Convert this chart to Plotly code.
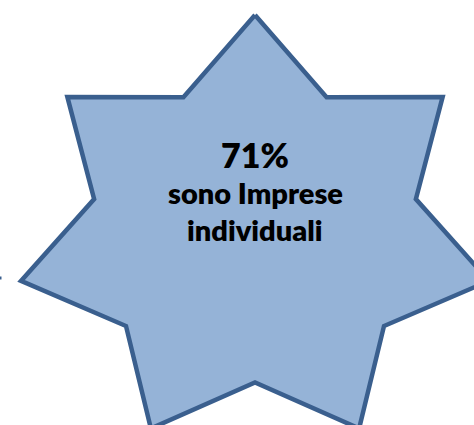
import math
import plotly.graph_objects as go

# ---- data ----
percent_value = [71]
label_lines = ["sono Imprese", "individuali"]
star_points = [7]

# ---- geometry (pixel space) ----
W, H = 474, 425
cx, cy = 255, 232.5
rx_out, ry_out = 240, 217.5
rx_in, ry_in = 165, 150

n = star_points[0]
xs, ys = [], []
for k in range(2 * n + 1):
    a = k * math.pi / n
    if k % 2 == 0:
        xs.append(cx + rx_out * math.sin(a)); ys.append(cy - ry_out * math.cos(a))
    else:
        xs.append(cx + rx_in * math.sin(a)); ys.append(cy - ry_in * math.cos(a))

fill_col = "#95B3D7"
line_col = "#3A5F8E"

fig = go.Figure()
fig.add_trace(go.Scatter(x=xs, y=ys, mode="lines", fill="toself",
                         fillcolor=fill_col, line=dict(color=line_col, width=4.5),
                         hoverinfo="skip", showlegend=False))
# small connector stub at left edge
fig.add_trace(go.Scatter(x=[-2, 1.5], y=[278, 278], mode="lines",
                         line=dict(color=line_col, width=3),
                         hoverinfo="skip", showlegend=False))

font_fam = "Lato, 'Open Sans', sans-serif"
fig.add_annotation(x=cx, y=154, text=f"{percent_value[0]}%", showarrow=False,
                   font=dict(family=font_fam, size=34, color="#000000", weight=800),
                   xanchor="center", yanchor="middle")
fig.add_annotation(x=cx, y=192, text=f"{label_lines[0]}", showarrow=False,
                   font=dict(family=font_fam, size=29, color="#000000", weight=800),
                   xanchor="center", yanchor="middle")
fig.add_annotation(x=cx, y=229, text=f"{label_lines[1]}", showarrow=False,
                   font=dict(family=font_fam, size=29, color="#000000", weight=800),
                   xanchor="center", yanchor="middle")

fig.update_layout(width=W, height=H, margin=dict(l=0, r=0, t=0, b=0),
                  paper_bgcolor="white", plot_bgcolor="white",
                  xaxis=dict(range=[0, W], visible=False, fixedrange=True),
                  yaxis=dict(range=[H, 0], visible=False, fixedrange=True))
fig.write_html("out.html", post_script="document.body.style.margin='0';",
               config={"displayModeBar": False})
